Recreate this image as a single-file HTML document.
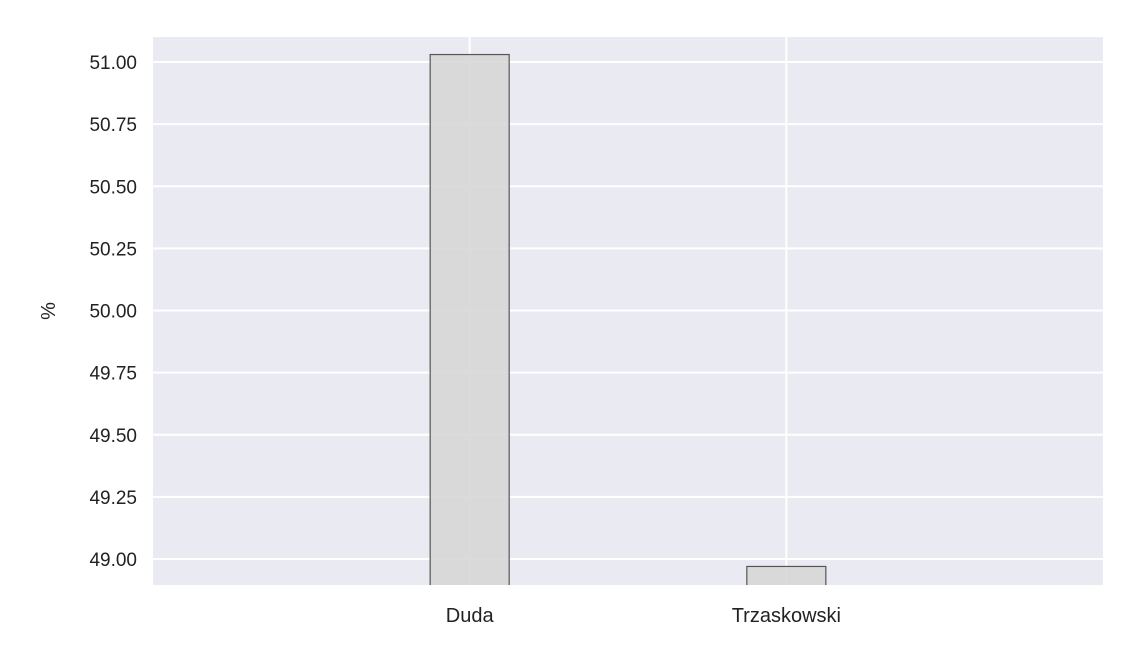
<!DOCTYPE html>
<html><head><meta charset="utf-8"><style>
body{margin:0;background:#fff;}
svg text{font-family:"Liberation Sans",sans-serif;fill:#222;}
</style></head><body>
<svg width="1140" height="665" xmlns="http://www.w3.org/2000/svg">
<defs><clipPath id="pc"><rect x="153" y="37" width="950" height="548"/></clipPath></defs>
<rect x="153" y="37" width="950" height="548" fill="#eaeaf2"/>
<g id="grid"></g><g id="bars" clip-path="url(#pc)"></g><g id="yticks"></g><g id="xticks"></g>
<text x="55" y="311" font-size="20" text-anchor="middle" transform="rotate(-90 55 311)">%</text>
</svg>
<script>
const categories=["Duda","Trzaskowski"];
const values=[51.03,48.97];
const yTicks=[49.00,49.25,49.50,49.75,50.00,50.25,50.50,50.75,51.00];
const ns="http://www.w3.org/2000/svg";
const X0=153,X1=1103,Y0=37,Y1=585;
function y(v){return 559-(v-49)*248.5;}
function x(i){return X0+(X1-X0)*(i+1)/(categories.length+1);}
function mk(t,a,p){const e=document.createElementNS(ns,t);for(const k in a)e.setAttribute(k,a[k]);document.getElementById(p).appendChild(e);return e;}
yTicks.forEach(t=>{
 const l=mk('line',{x1:X0,x2:X1,y1:y(t),y2:y(t),stroke:'#fff','stroke-width':2},'grid');
 
 
 const tx=mk('text',{x:137,y:y(t)+7,'font-size':19,'text-anchor':'end'},'yticks');
 tx.textContent=t.toFixed(2);
 
 
});
categories.forEach((c,i)=>{
 const l=mk('line',{x1:x(i),x2:x(i),y1:Y0,y2:Y1,stroke:'#fff','stroke-width':2},'grid');
 
 
 const top=y(values[i]);
 const b=mk('rect',{x:x(i)-39.5,y:top,width:79,height:Y1-top+10,fill:'rgb(215,215,215)','fill-opacity':0.9,stroke:'#555','stroke-width':1.2},'bars');
 
 
 const tx=mk('text',{x:x(i),y:622,'font-size':20,'text-anchor':'middle'},'xticks');
 tx.textContent=c;
 
 
});
</script>
</body></html>
